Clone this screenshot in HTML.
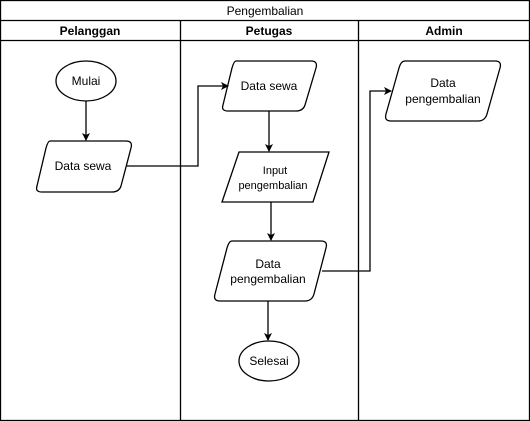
<!DOCTYPE html>
<html><head><style>body{margin:0;background:#fff}svg{display:block}</style></head><body>
<svg width="530" height="421" viewBox="0 0 530 421" xmlns="http://www.w3.org/2000/svg" font-family="Liberation Sans, sans-serif" font-size="12">
<defs><marker id="a" markerWidth="8" markerHeight="8" refX="7" refY="4" orient="auto" markerUnits="userSpaceOnUse"><path d="M0,0 L8,4 L0,8 L2,4 Z" fill="#000"/></marker></defs>
<g fill="none" stroke="#000" stroke-width="1.3">
<rect x="0.5" y="0.5" width="529" height="420"/>
<line x1="0" y1="20.5" x2="530" y2="20.5"/>
<line x1="0" y1="40.5" x2="530" y2="40.5"/>
<line x1="180.5" y1="20" x2="180.5" y2="421"/>
<line x1="358.5" y1="20" x2="358.5" y2="421"/>
<ellipse cx="86" cy="81" rx="30" ry="20"/>
<path d="M50,141 L126,141 Q133,141 131,148 L121,186 Q119,192 112,192 L42,192 Q35,192 37,186 L46,148 Q48,141 50,141Z"/>
<path d="M236,61 L311,61 Q318,61 316,68 L305,105 Q303,111 296,111 L228,111 Q221,111 223,105 L232,68 Q234,61 236,61Z"/>
<path d="M239,152 L329,152 L313,202 L222,202Z"/>
<path d="M232,241 L321,241 Q328,241 326,248 L314,294 Q312,301 305,301 L220,301 Q213,301 215,294 L227,248 Q229,241 232,241Z"/>
<path d="M405,61 L495,61 Q502,61 500,68 L487,114 Q485,121 478,121 L391,121 Q384,121 386,114 L399,68 Q401,61 405,61Z"/>
<ellipse cx="269" cy="361" rx="30" ry="20"/>
<path d="M86,101 L86,140" marker-end="url(#a)"/>
<path d="M127,166 L198,166 L198,86 L228,86" marker-end="url(#a)"/>
<path d="M269,111 L269,151" marker-end="url(#a)"/>
<path d="M271,202 L271,240" marker-end="url(#a)"/>
<path d="M322,271 L370,271 L370,91 L391,91" marker-end="url(#a)"/>
<path d="M268,301 L268,340" marker-end="url(#a)"/>
</g>
<g text-anchor="middle" fill="#000">
<text x="265" y="15">Pengembalian</text>
<text x="90" y="35" font-weight="bold">Pelanggan</text>
<text x="269" y="35" font-weight="bold">Petugas</text>
<text x="444" y="35" font-weight="bold">Admin</text>
<text x="86" y="85">Mulai</text>
<text x="83" y="170">Data sewa</text>
<text x="269" y="90">Data sewa</text>
<text x="275" y="174" font-size="11">Input</text>
<text x="273" y="189" font-size="11">pengembalian</text>
<text x="268" y="268">Data</text>
<text x="268" y="283">pengembalian</text>
<text x="443" y="87">Data</text>
<text x="443" y="103">pengembalian</text>
<text x="269" y="365">Selesai</text>
</g>
</svg>
</body></html>
